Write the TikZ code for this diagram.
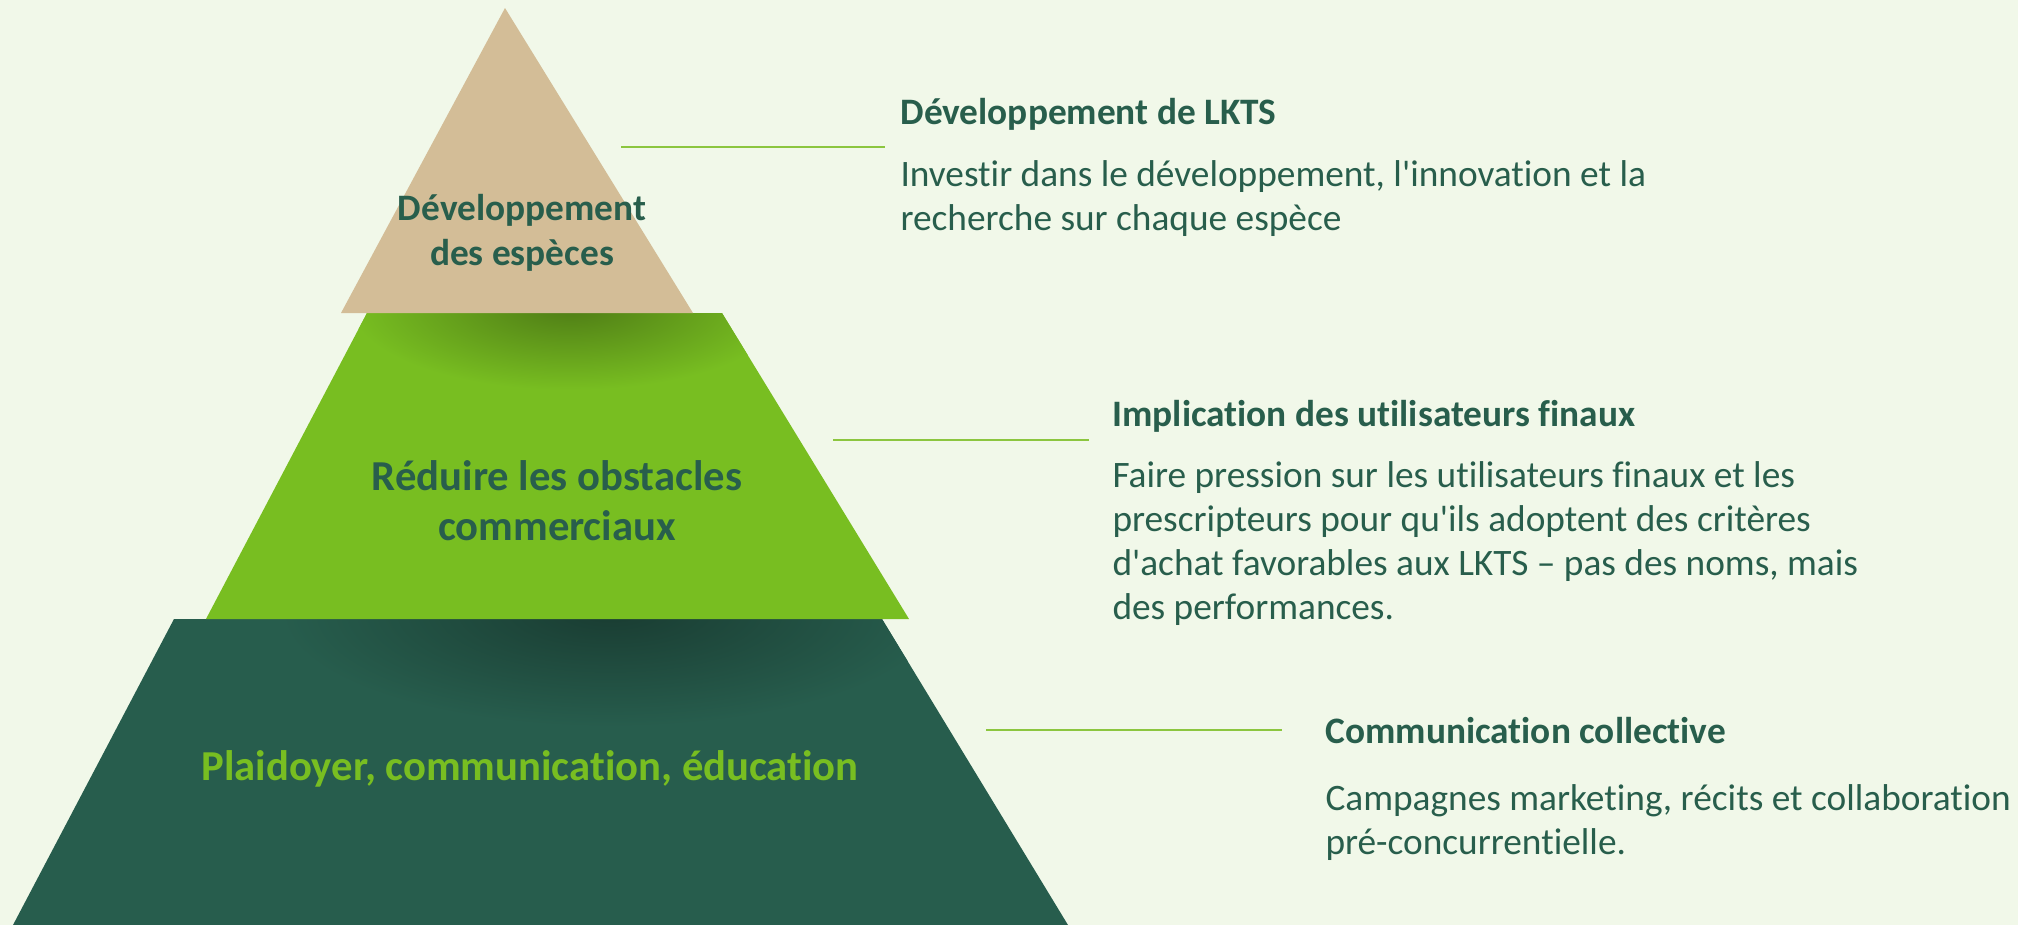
\documentclass[tikz,border=0pt]{standalone}
\usepackage{fontspec}
\setmainfont{Carlito}[Ligatures=NoCommon]
\definecolor{bgcream}{HTML}{F1F8E9}
\definecolor{pyrtan}{HTML}{D3BD97}
\definecolor{pyrlime}{HTML}{78BE21}
\definecolor{pyrdark}{HTML}{275D4D}
\definecolor{txtgreen}{HTML}{285E4C}
\definecolor{linelime}{HTML}{8CC63F}

% multi-line text whose baseline is the first line
\newcommand{\firstlines}[2]{\begin{tabular}[t]{@{}#1@{}}#2\end{tabular}}

\tikzset{every picture/.style={line width=0.75pt}}
\tikzset{
  headtxt/.style={anchor=base west, inner sep=0pt, font=\fontsize{28}{33}\selectfont\bfseries, text=txtgreen},
  bodytxt/.style={anchor=base west, inner sep=0pt, font=\fontsize{28}{33}\selectfont, text=txtgreen},
  tiertxt/.style={anchor=base, inner sep=0pt},
  leader/.style={draw=linelime, line width=1.2pt}
}

\begin{document}
\begin{tikzpicture}[x=0.75pt,y=0.75pt,yscale=-1,xscale=1]
    %set diagram left start at 0, and has height of 925
    \useasboundingbox (0,0) rectangle (2018,925);
    \fill[bgcream] (0,0) rectangle (2018,925);
    %Shape: Trapezoid [id:bottom tier]
    \fill[pyrdark] (174,619) -- (882,619) -- (1068,925) -- (13,925) -- cycle;
    \begin{scope}
      \clip (174,619) -- (882,619) -- (1068,925) -- (13,925) -- cycle;
      \shade[inner color=pyrdark!65!black, outer color=pyrdark] (610,612) ellipse [x radius=330, y radius=115];
    \end{scope}
    %Shape: Trapezoid [id:middle tier]
    \fill[pyrlime] (367,313) -- (722,313) -- (909,619) -- (206,619) -- cycle;
    \begin{scope}
      \clip (367,313) -- (722,313) -- (909,619) -- (206,619) -- cycle;
      \shade[inner color=pyrlime!65!black, outer color=pyrlime] (570,305) ellipse [x radius=220, y radius=85];
    \end{scope}
    %Shape: Triangle [id:top tier]
    \fill[pyrtan] (505,8) -- (693,313) -- (341,313) -- cycle;

    % Text Node
    \node (toptier) [tiertxt, font=\fontsize{28}{34}\selectfont\bfseries, text=txtgreen] at (522,220) {\firstlines{c}{Développement\\des espèces}};
    % Text Node
    \node (midtier) [tiertxt, font=\fontsize{32}{37.5}\selectfont\bfseries, text=txtgreen] at (557,490) {\firstlines{c}{Réduire les obstacles\\commerciaux}};
    % Text Node
    \node (bottier) [tiertxt, font=\fontsize{32}{37}\selectfont\bfseries, text=pyrlime] at (530,780) {Plaidoyer, communication, éducation};

    %Straight Lines
    \coordinate (lka) at (621,147);
    \coordinate (lkb) at (885,147);
    \draw[leader] (lka) -- (lkb);
    \coordinate (usa) at (833,440);
    \coordinate (usb) at (1089,440);
    \draw[leader] (usa) -- (usb);
    \coordinate (coa) at (986,730);
    \coordinate (cob) at (1282,730);
    \draw[leader] (coa) -- (cob);

    % Text Node
    \node (lkhead) [headtxt] at (900,124) {Développement de LKTS};
    % Text Node
    \node (lkbody) [bodytxt] at (900,186) {\firstlines{l}{Investir dans le développement, l\textquotesingle innovation et la\\recherche sur chaque espèce}};
    % Text Node
    \node (ushead) [headtxt] at (1112,426) {Implication des utilisateurs finaux};
    % Text Node
    \node (usbody) [bodytxt] at (1112,487) {\firstlines{l}{Faire pression sur les utilisateurs finaux et les\\prescripteurs pour qu\textquotesingle ils adoptent des critères\\d\textquotesingle achat favorables aux LKTS – pas des noms, mais\\des performances.}};
    % Text Node
    \node (cohead) [headtxt] at (1325,743) {Communication collective};
    % Text Node
    \node (cobody) [bodytxt] at (1325,810) {\firstlines{l}{Campagnes marketing, récits et collaboration\\pré-concurrentielle.}};
\end{tikzpicture}
\end{document}
